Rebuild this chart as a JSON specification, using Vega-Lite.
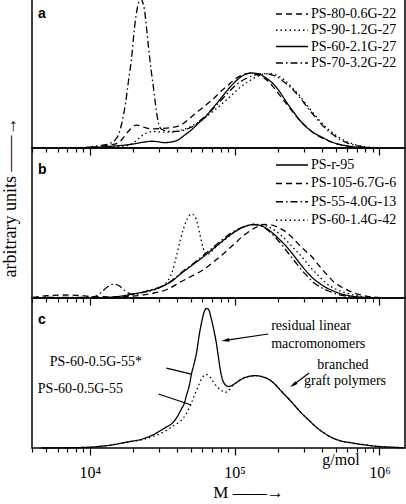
{
  "$schema": "https://vega.github.io/schema/vega-lite/v6.json",
  "padding": {"left": 0, "top": -5, "right": 2, "bottom": 0},
  "config": {
    "font": "Liberation Serif",
    "view": {"stroke": "black", "strokeWidth": 1.5},
    "axis": {"labelFont": "Liberation Serif", "titleFont": "Liberation Serif", "labelColor": "black", "titleColor": "black"},
    "text": {"font": "Liberation Serif", "color": "black"}
  },
  "datasets": {
    "a": [
      {"s":"PS-60-2.1G-27","M":7520,"v":0},{"s":"PS-60-2.1G-27","M":10320,"v":0.003},{"s":"PS-60-2.1G-27","M":14170,"v":0.012},{"s":"PS-60-2.1G-27","M":19460,"v":0.025},{"s":"PS-60-2.1G-27","M":23900,"v":0.04},{"s":"PS-60-2.1G-27","M":26720,"v":0.045},{"s":"PS-60-2.1G-27","M":28920,"v":0.043},{"s":"PS-60-2.1G-27","M":32830,"v":0.036},{"s":"PS-60-2.1G-27","M":36670,"v":0.04},{"s":"PS-60-2.1G-27","M":40990,"v":0.055},{"s":"PS-60-2.1G-27","M":45070,"v":0.085},{"s":"PS-60-2.1G-27","M":50350,"v":0.12},{"s":"PS-60-2.1G-27","M":56260,"v":0.165},{"s":"PS-60-2.1G-27","M":61870,"v":0.2},{"s":"PS-60-2.1G-27","M":69120,"v":0.255},{"s":"PS-60-2.1G-27","M":77260,"v":0.31},{"s":"PS-60-2.1G-27","M":84950,"v":0.36},{"s":"PS-60-2.1G-27","M":94900,"v":0.415},{"s":"PS-60-2.1G-27","M":106000,"v":0.46},{"s":"PS-60-2.1G-27","M":116600,"v":0.488},{"s":"PS-60-2.1G-27","M":130300,"v":0.5},{"s":"PS-60-2.1G-27","M":145600,"v":0.495},{"s":"PS-60-2.1G-27","M":160100,"v":0.475},{"s":"PS-60-2.1G-27","M":178900,"v":0.44},{"s":"PS-60-2.1G-27","M":199800,"v":0.39},{"s":"PS-60-2.1G-27","M":219900,"v":0.33},{"s":"PS-60-2.1G-27","M":234300,"v":0.29},{"s":"PS-60-2.1G-27","M":257600,"v":0.235},{"s":"PS-60-2.1G-27","M":287800,"v":0.175},{"s":"PS-60-2.1G-27","M":321600,"v":0.13},{"s":"PS-60-2.1G-27","M":353700,"v":0.1},{"s":"PS-60-2.1G-27","M":395200,"v":0.075},{"s":"PS-60-2.1G-27","M":448600,"v":0.048},{"s":"PS-60-2.1G-27","M":501200,"v":0.03},{"s":"PS-60-2.1G-27","M":587300,"v":0.015},{"s":"PS-60-2.1G-27","M":688200,"v":0.006},{"s":"PS-60-2.1G-27","M":806000,"v":0.002},{"s":"PS-60-2.1G-27","M":975000,"v":0},

      {"s":"PS-80-0.6G-22","M":7520,"v":0},{"s":"PS-80-0.6G-22","M":10320,"v":0.006},{"s":"PS-80-0.6G-22","M":12090,"v":0.012},{"s":"PS-80-0.6G-22","M":14170,"v":0.022},{"s":"PS-80-0.6G-22","M":15830,"v":0.035},{"s":"PS-80-0.6G-22","M":17140,"v":0.07},{"s":"PS-80-0.6G-22","M":18850,"v":0.12},{"s":"PS-80-0.6G-22","M":21060,"v":0.153},{"s":"PS-80-0.6G-22","M":23900,"v":0.137},{"s":"PS-80-0.6G-22","M":26720,"v":0.128},{"s":"PS-80-0.6G-22","M":31300,"v":0.13},{"s":"PS-80-0.6G-22","M":36670,"v":0.136},{"s":"PS-80-0.6G-22","M":42980,"v":0.155},{"s":"PS-80-0.6G-22","M":48020,"v":0.19},{"s":"PS-80-0.6G-22","M":52810,"v":0.225},{"s":"PS-80-0.6G-22","M":58990,"v":0.262},{"s":"PS-80-0.6G-22","M":65930,"v":0.3},{"s":"PS-80-0.6G-22","M":72510,"v":0.335},{"s":"PS-80-0.6G-22","M":81000,"v":0.38},{"s":"PS-80-0.6G-22","M":90500,"v":0.42},{"s":"PS-80-0.6G-22","M":99520,"v":0.455},{"s":"PS-80-0.6G-22","M":111200,"v":0.484},{"s":"PS-80-0.6G-22","M":124300,"v":0.498},{"s":"PS-80-0.6G-22","M":136700,"v":0.495},{"s":"PS-80-0.6G-22","M":152700,"v":0.478},{"s":"PS-80-0.6G-22","M":170600,"v":0.445},{"s":"PS-80-0.6G-22","M":187600,"v":0.4},{"s":"PS-80-0.6G-22","M":209600,"v":0.34},{"s":"PS-80-0.6G-22","M":234300,"v":0.28},{"s":"PS-80-0.6G-22","M":257600,"v":0.228},{"s":"PS-80-0.6G-22","M":287800,"v":0.175},{"s":"PS-80-0.6G-22","M":321600,"v":0.13},{"s":"PS-80-0.6G-22","M":353700,"v":0.097},{"s":"PS-80-0.6G-22","M":395200,"v":0.07},{"s":"PS-80-0.6G-22","M":448600,"v":0.046},{"s":"PS-80-0.6G-22","M":501200,"v":0.029},{"s":"PS-80-0.6G-22","M":587300,"v":0.014},{"s":"PS-80-0.6G-22","M":688200,"v":0.006},{"s":"PS-80-0.6G-22","M":806000,"v":0.002},{"s":"PS-80-0.6G-22","M":975000,"v":0},

      {"s":"PS-90-1.2G-27","M":8810,"v":0},{"s":"PS-90-1.2G-27","M":12090,"v":0.003},{"s":"PS-90-1.2G-27","M":15340,"v":0.008},{"s":"PS-90-1.2G-27","M":17970,"v":0.015},{"s":"PS-90-1.2G-27","M":20410,"v":0.04},{"s":"PS-90-1.2G-27","M":22800,"v":0.08},{"s":"PS-90-1.2G-27","M":24680,"v":0.1},{"s":"PS-90-1.2G-27","M":27580,"v":0.11},{"s":"PS-90-1.2G-27","M":31300,"v":0.106},{"s":"PS-90-1.2G-27","M":36670,"v":0.106},{"s":"PS-90-1.2G-27","M":42980,"v":0.12},{"s":"PS-90-1.2G-27","M":50350,"v":0.145},{"s":"PS-90-1.2G-27","M":58990,"v":0.185},{"s":"PS-90-1.2G-27","M":69120,"v":0.235},{"s":"PS-90-1.2G-27","M":81000,"v":0.29},{"s":"PS-90-1.2G-27","M":94900,"v":0.35},{"s":"PS-90-1.2G-27","M":111200,"v":0.41},{"s":"PS-90-1.2G-27","M":130300,"v":0.455},{"s":"PS-90-1.2G-27","M":145600,"v":0.48},{"s":"PS-90-1.2G-27","M":160100,"v":0.494},{"s":"PS-90-1.2G-27","M":178900,"v":0.495},{"s":"PS-90-1.2G-27","M":199800,"v":0.48},{"s":"PS-90-1.2G-27","M":219900,"v":0.455},{"s":"PS-90-1.2G-27","M":245600,"v":0.41},{"s":"PS-90-1.2G-27","M":274500,"v":0.36},{"s":"PS-90-1.2G-27","M":301800,"v":0.31},{"s":"PS-90-1.2G-27","M":337300,"v":0.25},{"s":"PS-90-1.2G-27","M":376900,"v":0.195},{"s":"PS-90-1.2G-27","M":414400,"v":0.15},{"s":"PS-90-1.2G-27","M":463100,"v":0.11},{"s":"PS-90-1.2G-27","M":517300,"v":0.075},{"s":"PS-90-1.2G-27","M":587300,"v":0.045},{"s":"PS-90-1.2G-27","M":635600,"v":0.032},{"s":"PS-90-1.2G-27","M":710100,"v":0.018},{"s":"PS-90-1.2G-27","M":806000,"v":0.008},{"s":"PS-90-1.2G-27","M":944500,"v":0.002},{"s":"PS-90-1.2G-27","M":1107000,"v":0},

      {"s":"PS-70-3.2G-22","M":7520,"v":0},{"s":"PS-70-3.2G-22","M":10320,"v":0.008},{"s":"PS-70-3.2G-22","M":12090,"v":0.018},{"s":"PS-70-3.2G-22","M":13730,"v":0.03},{"s":"PS-70-3.2G-22","M":14860,"v":0.05},{"s":"PS-70-3.2G-22","M":15830,"v":0.09},{"s":"PS-70-3.2G-22","M":16610,"v":0.16},{"s":"PS-70-3.2G-22","M":17690,"v":0.3},{"s":"PS-70-3.2G-22","M":18550,"v":0.45},{"s":"PS-70-3.2G-22","M":19460,"v":0.6},{"s":"PS-70-3.2G-22","M":20090,"v":0.74},{"s":"PS-70-3.2G-22","M":20730,"v":0.86},{"s":"PS-70-3.2G-22","M":21400,"v":0.94},{"s":"PS-70-3.2G-22","M":22090,"v":0.985},{"s":"PS-70-3.2G-22","M":22620,"v":0.993},{"s":"PS-70-3.2G-22","M":23170,"v":0.975},{"s":"PS-70-3.2G-22","M":23900,"v":0.92},{"s":"PS-70-3.2G-22","M":24680,"v":0.8},{"s":"PS-70-3.2G-22","M":25480,"v":0.67},{"s":"PS-70-3.2G-22","M":26720,"v":0.5},{"s":"PS-70-3.2G-22","M":27580,"v":0.4},{"s":"PS-70-3.2G-22","M":28470,"v":0.29},{"s":"PS-70-3.2G-22","M":29380,"v":0.2},{"s":"PS-70-3.2G-22","M":30330,"v":0.145},{"s":"PS-70-3.2G-22","M":31300,"v":0.125},{"s":"PS-70-3.2G-22","M":33880,"v":0.115},{"s":"PS-70-3.2G-22","M":37860,"v":0.11},{"s":"PS-70-3.2G-22","M":42980,"v":0.115},{"s":"PS-70-3.2G-22","M":48020,"v":0.13},{"s":"PS-70-3.2G-22","M":52810,"v":0.15},{"s":"PS-70-3.2G-22","M":58990,"v":0.19},{"s":"PS-70-3.2G-22","M":65930,"v":0.23},{"s":"PS-70-3.2G-22","M":72510,"v":0.27},{"s":"PS-70-3.2G-22","M":81000,"v":0.32},{"s":"PS-70-3.2G-22","M":90500,"v":0.37},{"s":"PS-70-3.2G-22","M":99520,"v":0.41},{"s":"PS-70-3.2G-22","M":111200,"v":0.445},{"s":"PS-70-3.2G-22","M":124300,"v":0.47},{"s":"PS-70-3.2G-22","M":136700,"v":0.485},{"s":"PS-70-3.2G-22","M":152700,"v":0.495},{"s":"PS-70-3.2G-22","M":165300,"v":0.496},{"s":"PS-70-3.2G-22","M":178900,"v":0.488},{"s":"PS-70-3.2G-22","M":199800,"v":0.47},{"s":"PS-70-3.2G-22","M":219900,"v":0.44},{"s":"PS-70-3.2G-22","M":245600,"v":0.4},{"s":"PS-70-3.2G-22","M":274500,"v":0.35},{"s":"PS-70-3.2G-22","M":301800,"v":0.3},{"s":"PS-70-3.2G-22","M":337300,"v":0.24},{"s":"PS-70-3.2G-22","M":376900,"v":0.185},{"s":"PS-70-3.2G-22","M":414400,"v":0.14},{"s":"PS-70-3.2G-22","M":463100,"v":0.1},{"s":"PS-70-3.2G-22","M":517300,"v":0.065},{"s":"PS-70-3.2G-22","M":587300,"v":0.038},{"s":"PS-70-3.2G-22","M":688200,"v":0.016},{"s":"PS-70-3.2G-22","M":806000,"v":0.006},{"s":"PS-70-3.2G-22","M":944500,"v":0.001}
    ],
    "b": [
      {"s":"PS-r-95","M":10320,"v":0},{"s":"PS-r-95","M":14170,"v":0.005},{"s":"PS-r-95","M":19460,"v":0.025},{"s":"PS-r-95","M":24680,"v":0.045},{"s":"PS-r-95","M":29850,"v":0.067},{"s":"PS-r-95","M":36670,"v":0.11},{"s":"PS-r-95","M":42980,"v":0.165},{"s":"PS-r-95","M":50350,"v":0.215},{"s":"PS-r-95","M":61870,"v":0.28},{"s":"PS-r-95","M":72510,"v":0.335},{"s":"PS-r-95","M":84950,"v":0.39},{"s":"PS-r-95","M":94900,"v":0.425},{"s":"PS-r-95","M":106000,"v":0.455},{"s":"PS-r-95","M":120400,"v":0.48},{"s":"PS-r-95","M":134500,"v":0.49},{"s":"PS-r-95","M":147900,"v":0.486},{"s":"PS-r-95","M":165300,"v":0.465},{"s":"PS-r-95","M":184600,"v":0.43},{"s":"PS-r-95","M":209600,"v":0.38},{"s":"PS-r-95","M":234300,"v":0.33},{"s":"PS-r-95","M":257600,"v":0.28},{"s":"PS-r-95","M":287800,"v":0.22},{"s":"PS-r-95","M":321600,"v":0.165},{"s":"PS-r-95","M":353700,"v":0.125},{"s":"PS-r-95","M":382800,"v":0.1},{"s":"PS-r-95","M":427800,"v":0.07},{"s":"PS-r-95","M":485700,"v":0.045},{"s":"PS-r-95","M":542600,"v":0.028},{"s":"PS-r-95","M":635600,"v":0.013},{"s":"PS-r-95","M":744700,"v":0.005},{"s":"PS-r-95","M":872700,"v":0.002},{"s":"PS-r-95","M":1022000,"v":0},

      {"s":"PS-105-6.7G-6","M":4050,"v":0.004},{"s":"PS-105-6.7G-6","M":5060,"v":0.015},{"s":"PS-105-6.7G-6","M":6418,"v":0.02},{"s":"PS-105-6.7G-6","M":8140,"v":0.018},{"s":"PS-105-6.7G-6","M":10320,"v":0.01},{"s":"PS-105-6.7G-6","M":14170,"v":0.008},{"s":"PS-105-6.7G-6","M":19460,"v":0.012},{"s":"PS-105-6.7G-6","M":26720,"v":0.03},{"s":"PS-105-6.7G-6","M":33880,"v":0.055},{"s":"PS-105-6.7G-6","M":42980,"v":0.11},{"s":"PS-105-6.7G-6","M":50350,"v":0.145},{"s":"PS-105-6.7G-6","M":61870,"v":0.193},{"s":"PS-105-6.7G-6","M":72510,"v":0.245},{"s":"PS-105-6.7G-6","M":84950,"v":0.3},{"s":"PS-105-6.7G-6","M":99520,"v":0.36},{"s":"PS-105-6.7G-6","M":116600,"v":0.42},{"s":"PS-105-6.7G-6","M":136700,"v":0.465},{"s":"PS-105-6.7G-6","M":160100,"v":0.49},{"s":"PS-105-6.7G-6","M":178900,"v":0.487},{"s":"PS-105-6.7G-6","M":199800,"v":0.47},{"s":"PS-105-6.7G-6","M":227000,"v":0.44},{"s":"PS-105-6.7G-6","M":257600,"v":0.39},{"s":"PS-105-6.7G-6","M":287800,"v":0.34},{"s":"PS-105-6.7G-6","M":337300,"v":0.28},{"s":"PS-105-6.7G-6","M":395200,"v":0.2},{"s":"PS-105-6.7G-6","M":448600,"v":0.14},{"s":"PS-105-6.7G-6","M":485700,"v":0.105},{"s":"PS-105-6.7G-6","M":542600,"v":0.075},{"s":"PS-105-6.7G-6","M":635600,"v":0.042},{"s":"PS-105-6.7G-6","M":744700,"v":0.02},{"s":"PS-105-6.7G-6","M":872700,"v":0.008},{"s":"PS-105-6.7G-6","M":1022000,"v":0.002},

      {"s":"PS-55-4.0G-13","M":4050,"v":0.003},{"s":"PS-55-4.0G-13","M":7520,"v":0.004},{"s":"PS-55-4.0G-13","M":10320,"v":0.006},{"s":"PS-55-4.0G-13","M":11170,"v":0.015},{"s":"PS-55-4.0G-13","M":12090,"v":0.04},{"s":"PS-55-4.0G-13","M":13300,"v":0.075},{"s":"PS-55-4.0G-13","M":14630,"v":0.093},{"s":"PS-55-4.0G-13","M":16090,"v":0.08},{"s":"PS-55-4.0G-13","M":17410,"v":0.05},{"s":"PS-55-4.0G-13","M":18850,"v":0.03},{"s":"PS-55-4.0G-13","M":20410,"v":0.025},{"s":"PS-55-4.0G-13","M":24680,"v":0.045},{"s":"PS-55-4.0G-13","M":29850,"v":0.07},{"s":"PS-55-4.0G-13","M":36670,"v":0.115},{"s":"PS-55-4.0G-13","M":42980,"v":0.17},{"s":"PS-55-4.0G-13","M":50350,"v":0.22},{"s":"PS-55-4.0G-13","M":61870,"v":0.29},{"s":"PS-55-4.0G-13","M":72510,"v":0.345},{"s":"PS-55-4.0G-13","M":84950,"v":0.4},{"s":"PS-55-4.0G-13","M":94900,"v":0.435},{"s":"PS-55-4.0G-13","M":106000,"v":0.46},{"s":"PS-55-4.0G-13","M":120400,"v":0.48},{"s":"PS-55-4.0G-13","M":134500,"v":0.49},{"s":"PS-55-4.0G-13","M":147900,"v":0.485},{"s":"PS-55-4.0G-13","M":165300,"v":0.46},{"s":"PS-55-4.0G-13","M":184600,"v":0.42},{"s":"PS-55-4.0G-13","M":209600,"v":0.36},{"s":"PS-55-4.0G-13","M":234300,"v":0.3},{"s":"PS-55-4.0G-13","M":257600,"v":0.25},{"s":"PS-55-4.0G-13","M":287800,"v":0.19},{"s":"PS-55-4.0G-13","M":321600,"v":0.14},{"s":"PS-55-4.0G-13","M":353700,"v":0.1},{"s":"PS-55-4.0G-13","M":395200,"v":0.07},{"s":"PS-55-4.0G-13","M":448600,"v":0.045},{"s":"PS-55-4.0G-13","M":501200,"v":0.028},{"s":"PS-55-4.0G-13","M":587300,"v":0.013},{"s":"PS-55-4.0G-13","M":688200,"v":0.005},{"s":"PS-55-4.0G-13","M":806000,"v":0.001},

      {"s":"PS-60-1.4G-42","M":10320,"v":0},{"s":"PS-60-1.4G-42","M":16610,"v":0.01},{"s":"PS-60-1.4G-42","M":22800,"v":0.035},{"s":"PS-60-1.4G-42","M":28920,"v":0.06},{"s":"PS-60-1.4G-42","M":32830,"v":0.09},{"s":"PS-60-1.4G-42","M":34970,"v":0.12},{"s":"PS-60-1.4G-42","M":37260,"v":0.18},{"s":"PS-60-1.4G-42","M":39700,"v":0.28},{"s":"PS-60-1.4G-42","M":42300,"v":0.39},{"s":"PS-60-1.4G-42","M":44360,"v":0.46},{"s":"PS-60-1.4G-42","M":47260,"v":0.53},{"s":"PS-60-1.4G-42","M":50350,"v":0.56},{"s":"PS-60-1.4G-42","M":52810,"v":0.55},{"s":"PS-60-1.4G-42","M":55380,"v":0.5},{"s":"PS-60-1.4G-42","M":58060,"v":0.41},{"s":"PS-60-1.4G-42","M":60900,"v":0.33},{"s":"PS-60-1.4G-42","M":63870,"v":0.29},{"s":"PS-60-1.4G-42","M":66970,"v":0.295},{"s":"PS-60-1.4G-42","M":72510,"v":0.33},{"s":"PS-60-1.4G-42","M":84950,"v":0.385},{"s":"PS-60-1.4G-42","M":99520,"v":0.44},{"s":"PS-60-1.4G-42","M":116600,"v":0.475},{"s":"PS-60-1.4G-42","M":134500,"v":0.49},{"s":"PS-60-1.4G-42","M":152700,"v":0.49},{"s":"PS-60-1.4G-42","M":170600,"v":0.475},{"s":"PS-60-1.4G-42","M":193600,"v":0.445},{"s":"PS-60-1.4G-42","M":219900,"v":0.4},{"s":"PS-60-1.4G-42","M":245600,"v":0.35},{"s":"PS-60-1.4G-42","M":287800,"v":0.28},{"s":"PS-60-1.4G-42","M":337300,"v":0.2},{"s":"PS-60-1.4G-42","M":382800,"v":0.145},{"s":"PS-60-1.4G-42","M":427800,"v":0.1},{"s":"PS-60-1.4G-42","M":485700,"v":0.065},{"s":"PS-60-1.4G-42","M":542600,"v":0.045},{"s":"PS-60-1.4G-42","M":635600,"v":0.024},{"s":"PS-60-1.4G-42","M":744700,"v":0.01},{"s":"PS-60-1.4G-42","M":872700,"v":0.003}
    ],
    "c": [
      {"s":"PS-60-0.5G-55*","M":4673,"v":0},{"s":"PS-60-0.5G-55*","M":7520,"v":0.002},{"s":"PS-60-0.5G-55*","M":10000,"v":0.005},{"s":"PS-60-0.5G-55*","M":12090,"v":0.012},{"s":"PS-60-0.5G-55*","M":14170,"v":0.02},{"s":"PS-60-0.5G-55*","M":16610,"v":0.033},{"s":"PS-60-0.5G-55*","M":19460,"v":0.045},{"s":"PS-60-0.5G-55*","M":21740,"v":0.053},{"s":"PS-60-0.5G-55*","M":24680,"v":0.07},{"s":"PS-60-0.5G-55*","M":28030,"v":0.093},{"s":"PS-60-0.5G-55*","M":31300,"v":0.12},{"s":"PS-60-0.5G-55*","M":33880,"v":0.14},{"s":"PS-60-0.5G-55*","M":36670,"v":0.16},{"s":"PS-60-0.5G-55*","M":39700,"v":0.2},{"s":"PS-60-0.5G-55*","M":42980,"v":0.26},{"s":"PS-60-0.5G-55*","M":45070,"v":0.3},{"s":"PS-60-0.5G-55*","M":46520,"v":0.35},{"s":"PS-60-0.5G-55*","M":48790,"v":0.42},{"s":"PS-60-0.5G-55*","M":50350,"v":0.49},{"s":"PS-60-0.5G-55*","M":52810,"v":0.57},{"s":"PS-60-0.5G-55*","M":54530,"v":0.63},{"s":"PS-60-0.5G-55*","M":57170,"v":0.76},{"s":"PS-60-0.5G-55*","M":58990,"v":0.83},{"s":"PS-60-0.5G-55*","M":60900,"v":0.89},{"s":"PS-60-0.5G-55*","M":63870,"v":0.93},{"s":"PS-60-0.5G-55*","M":65930,"v":0.925},{"s":"PS-60-0.5G-55*","M":69120,"v":0.86},{"s":"PS-60-0.5G-55*","M":72510,"v":0.77},{"s":"PS-60-0.5G-55*","M":74850,"v":0.7},{"s":"PS-60-0.5G-55*","M":77260,"v":0.61},{"s":"PS-60-0.5G-55*","M":79730,"v":0.52},{"s":"PS-60-0.5G-55*","M":82300,"v":0.46},{"s":"PS-60-0.5G-55*","M":84950,"v":0.43},{"s":"PS-60-0.5G-55*","M":87700,"v":0.415},{"s":"PS-60-0.5G-55*","M":90500,"v":0.41},{"s":"PS-60-0.5G-55*","M":94900,"v":0.415},{"s":"PS-60-0.5G-55*","M":106000,"v":0.445},{"s":"PS-60-0.5G-55*","M":116600,"v":0.468},{"s":"PS-60-0.5G-55*","M":130300,"v":0.48},{"s":"PS-60-0.5G-55*","M":141100,"v":0.482},{"s":"PS-60-0.5G-55*","M":152700,"v":0.477},{"s":"PS-60-0.5G-55*","M":170600,"v":0.46},{"s":"PS-60-0.5G-55*","M":187600,"v":0.43},{"s":"PS-60-0.5G-55*","M":209600,"v":0.38},{"s":"PS-60-0.5G-55*","M":245600,"v":0.31},{"s":"PS-60-0.5G-55*","M":287800,"v":0.235},{"s":"PS-60-0.5G-55*","M":321600,"v":0.19},{"s":"PS-60-0.5G-55*","M":365100,"v":0.14},{"s":"PS-60-0.5G-55*","M":414400,"v":0.1},{"s":"PS-60-0.5G-55*","M":463100,"v":0.072},{"s":"PS-60-0.5G-55*","M":542600,"v":0.047},{"s":"PS-60-0.5G-55*","M":635600,"v":0.035},{"s":"PS-60-0.5G-55*","M":710100,"v":0.027},{"s":"PS-60-0.5G-55*","M":806000,"v":0.02},{"s":"PS-60-0.5G-55*","M":915300,"v":0.013},{"s":"PS-60-0.5G-55*","M":1107000,"v":0.007},{"s":"PS-60-0.5G-55*","M":1496000,"v":0.002},

      {"s":"PS-60-0.5G-55","M":4673,"v":0},{"s":"PS-60-0.5G-55","M":7520,"v":0.002},{"s":"PS-60-0.5G-55","M":10000,"v":0.005},{"s":"PS-60-0.5G-55","M":12090,"v":0.012},{"s":"PS-60-0.5G-55","M":14170,"v":0.02},{"s":"PS-60-0.5G-55","M":16610,"v":0.032},{"s":"PS-60-0.5G-55","M":19460,"v":0.043},{"s":"PS-60-0.5G-55","M":22800,"v":0.055},{"s":"PS-60-0.5G-55","M":25480,"v":0.067},{"s":"PS-60-0.5G-55","M":28920,"v":0.085},{"s":"PS-60-0.5G-55","M":32830,"v":0.11},{"s":"PS-60-0.5G-55","M":36670,"v":0.14},{"s":"PS-60-0.5G-55","M":40990,"v":0.17},{"s":"PS-60-0.5G-55","M":44360,"v":0.2},{"s":"PS-60-0.5G-55","M":46520,"v":0.23},{"s":"PS-60-0.5G-55","M":50350,"v":0.3},{"s":"PS-60-0.5G-55","M":52810,"v":0.35},{"s":"PS-60-0.5G-55","M":55380,"v":0.4},{"s":"PS-60-0.5G-55","M":57170,"v":0.43},{"s":"PS-60-0.5G-55","M":59950,"v":0.47},{"s":"PS-60-0.5G-55","M":63870,"v":0.49},{"s":"PS-60-0.5G-55","M":68050,"v":0.47},{"s":"PS-60-0.5G-55","M":72510,"v":0.43},{"s":"PS-60-0.5G-55","M":77260,"v":0.4},{"s":"PS-60-0.5G-55","M":81000,"v":0.385},{"s":"PS-60-0.5G-55","M":84950,"v":0.37},{"s":"PS-60-0.5G-55","M":90500,"v":0.38},{"s":"PS-60-0.5G-55","M":94900,"v":0.405},{"s":"PS-60-0.5G-55","M":106000,"v":0.445},{"s":"PS-60-0.5G-55","M":116600,"v":0.468},{"s":"PS-60-0.5G-55","M":130300,"v":0.48},{"s":"PS-60-0.5G-55","M":141100,"v":0.482},{"s":"PS-60-0.5G-55","M":152700,"v":0.477},{"s":"PS-60-0.5G-55","M":170600,"v":0.46},{"s":"PS-60-0.5G-55","M":187600,"v":0.43},{"s":"PS-60-0.5G-55","M":209600,"v":0.38},{"s":"PS-60-0.5G-55","M":245600,"v":0.31},{"s":"PS-60-0.5G-55","M":287800,"v":0.235},{"s":"PS-60-0.5G-55","M":321600,"v":0.19},{"s":"PS-60-0.5G-55","M":365100,"v":0.14},{"s":"PS-60-0.5G-55","M":414400,"v":0.1},{"s":"PS-60-0.5G-55","M":463100,"v":0.072},{"s":"PS-60-0.5G-55","M":542600,"v":0.047},{"s":"PS-60-0.5G-55","M":635600,"v":0.035},{"s":"PS-60-0.5G-55","M":710100,"v":0.027},{"s":"PS-60-0.5G-55","M":806000,"v":0.02},{"s":"PS-60-0.5G-55","M":915300,"v":0.013},{"s":"PS-60-0.5G-55","M":1107000,"v":0.007},{"s":"PS-60-0.5G-55","M":1496000,"v":0.002}
    ]
  },
  "vconcat": [
    {
      "width": 373, "height": 150,
      "layer": [
        {
          "data": {"name": "a"},
          "mark": {"type": "line", "color": "black", "strokeWidth": 1.3, "interpolate": "monotone", "strokeCap": "butt"},
          "encoding": {
            "x": {"field": "M", "type": "quantitative", "scale": {"type": "log", "domain": [4000, 1500000], "nice": false},
              "axis": {"values": [4000,5000,6000,7000,8000,9000,10000,20000,30000,40000,50000,60000,70000,80000,90000,100000,200000,300000,400000,500000,600000,700000,800000,900000,1000000], "labels": false, "domain": false, "grid": false, "title": null, "tickColor": "black", "tickWidth": 1.2,
                "tickSize": {"condition": {"test": "datum.value === 10000 || datum.value === 100000 || datum.value === 1000000", "value": 7}, "value": 4}}},
            "y": {"field": "v", "type": "quantitative", "scale": {"domain": [0, 1], "nice": false}, "axis": null},
            "strokeDash": {"field": "s", "type": "nominal", "sort": null,
              "scale": {"domain": ["PS-80-0.6G-22", "PS-90-1.2G-27", "PS-60-2.1G-27", "PS-70-3.2G-22"], "range": [[6, 4], [1.5, 3], [1, 0], [7, 3, 1.5, 3]]},
              "legend": {"title": null, "orient": "none", "legendX": 253, "legendY": 9, "padding": 0, "symbolType": "M-4,0H4", "symbolSize": 64, "symbolStrokeWidth": 1.5, "symbolStrokeColor": "black", "labelFont": "Liberation Serif", "labelFontSize": 14, "labelColor": "black", "labelOffset": 12, "rowPadding": 2.3}}
          }
        },
        {
          "data": {"values": [{}]},
          "mark": {"type": "text", "text": "a", "font": "Liberation Sans", "fontWeight": "bold", "fontSize": 14, "align": "left", "baseline": "alphabetic"},
          "encoding": {"x": {"datum": 4400}, "y": {"datum": 0.867}}
        }
      ]
    },
    {
      "width": 373, "height": 150,
      "layer": [
        {
          "data": {"name": "b"},
          "mark": {"type": "line", "color": "black", "strokeWidth": 1.3, "interpolate": "monotone", "strokeCap": "butt"},
          "encoding": {
            "x": {"field": "M", "type": "quantitative", "scale": {"type": "log", "domain": [4000, 1500000], "nice": false},
              "axis": {"values": [4000,5000,6000,7000,8000,9000,10000,20000,30000,40000,50000,60000,70000,80000,90000,100000,200000,300000,400000,500000,600000,700000,800000,900000,1000000], "labels": false, "domain": false, "grid": false, "title": null, "tickColor": "black", "tickWidth": 1.2,
                "tickSize": {"condition": {"test": "datum.value === 10000 || datum.value === 100000 || datum.value === 1000000", "value": 7}, "value": 4}}},
            "y": {"field": "v", "type": "quantitative", "scale": {"domain": [0, 1], "nice": false},
              "axis": {"title": "arbitrary units ——→", "titleFont": "Liberation Serif", "titleFontSize": 18, "titleFontWeight": "normal", "titleColor": "black", "labels": false, "ticks": false, "domain": false, "grid": false, "titleX": -16.6, "titleY": 49, "titleAlign": "center", "titleBaseline": "alphabetic", "titleAngle": 270}},
            "strokeDash": {"field": "s", "type": "nominal", "sort": null,
              "scale": {"domain": ["PS-r-95", "PS-105-6.7G-6", "PS-55-4.0G-13", "PS-60-1.4G-42"], "range": [[1, 0], [6, 4], [7, 3, 1.5, 3], [1.5, 3]]},
              "legend": {"title": null, "orient": "none", "legendX": 253, "legendY": 10, "padding": 0, "symbolType": "M-4,0H4", "symbolSize": 64, "symbolStrokeWidth": 1.5, "symbolStrokeColor": "black", "labelFont": "Liberation Serif", "labelFontSize": 14, "labelColor": "black", "labelOffset": 12, "rowPadding": 4.4}}
          }
        },
        {
          "data": {"values": [{}]},
          "mark": {"type": "text", "text": "b", "font": "Liberation Sans", "fontWeight": "bold", "fontSize": 14, "align": "left", "baseline": "alphabetic"},
          "encoding": {"x": {"datum": 4400}, "y": {"datum": 0.827}}
        }
      ]
    },
    {
      "width": 373, "height": 150,
      "layer": [
        {
          "data": {"name": "c"},
          "mark": {"type": "line", "color": "black", "strokeWidth": 1.3, "interpolate": "monotone", "strokeCap": "butt"},
          "encoding": {
            "x": {"field": "M", "type": "quantitative", "scale": {"type": "log", "domain": [4000, 1500000], "nice": false},
              "axis": {"values": [4000,5000,6000,7000,8000,9000,10000,20000,30000,40000,50000,60000,70000,80000,90000,100000,200000,300000,400000,500000,600000,700000,800000,900000,1000000], "domain": false, "grid": false, "tickColor": "black", "tickWidth": 1.2,
                "tickSize": {"condition": {"test": "datum.value === 10000 || datum.value === 100000 || datum.value === 1000000", "value": 7}, "value": 4},
                "labelExpr": "datum.value === 10000 ? '10⁴' : datum.value === 100000 ? '10⁵' : datum.value === 1000000 ? '10⁶' : ''",
                "labelFont": "Liberation Serif", "labelFontSize": 16, "labelColor": "black", "labelBaseline": "alphabetic", "labelPadding": 22, "labelOverlap": false, "labelFlush": false, "labelBound": false,
                "title": "M ——→", "titleFont": "Liberation Serif", "titleFontSize": 17, "titleFontWeight": "normal", "titleColor": "black", "titleX": 216, "titleY": 49, "titleAlign": "center", "titleBaseline": "alphabetic"}},
            "y": {"field": "v", "type": "quantitative", "scale": {"domain": [0, 1], "nice": false}, "axis": null},
            "strokeDash": {"field": "s", "type": "nominal", "sort": null,
              "scale": {"domain": ["PS-60-0.5G-55*", "PS-60-0.5G-55"], "range": [[1, 0], [1.5, 3]]},
              "legend": null}
          }
        },
        {
          "data": {"values": [{}]},
          "mark": {"type": "text", "text": "c", "font": "Liberation Sans", "fontWeight": "bold", "fontSize": 14, "align": "left", "baseline": "alphabetic"},
          "encoding": {"x": {"datum": 4400}, "y": {"datum": 0.827}}
        },
        {
          "data": {"values": [{}]},
          "mark": {"type": "text", "text": "g/mol", "fontSize": 16, "align": "center", "baseline": "alphabetic"},
          "encoding": {"x": {"datum": 542600}, "y": {"datum": -0.113}}
        },
        {
          "data": {"values": [{}]},
          "mark": {"type": "text", "text": "residual linear", "fontSize": 14, "align": "left", "baseline": "alphabetic"},
          "encoding": {"x": {"datum": 178900}, "y": {"datum": 0.787}}
        },
        {
          "data": {"values": [{}]},
          "mark": {"type": "text", "text": "macromonomers", "fontSize": 14, "align": "left", "baseline": "alphabetic"},
          "encoding": {"x": {"datum": 178900}, "y": {"datum": 0.667}}
        },
        {
          "data": {"values": [{}]},
          "mark": {"type": "text", "text": "branched", "fontSize": 14, "align": "center", "baseline": "alphabetic"},
          "encoding": {"x": {"datum": 559800}, "y": {"datum": 0.527}}
        },
        {
          "data": {"values": [{}]},
          "mark": {"type": "text", "text": "graft polymers", "fontSize": 14, "align": "center", "baseline": "alphabetic"},
          "encoding": {"x": {"datum": 578000}, "y": {"datum": 0.42}}
        },
        {
          "data": {"values": [{}]},
          "mark": {"type": "text", "text": "PS-60-0.5G-55*", "fontSize": 14, "align": "left", "baseline": "alphabetic"},
          "encoding": {"x": {"datum": 5306}, "y": {"datum": 0.547}}
        },
        {
          "data": {"values": [{}]},
          "mark": {"type": "text", "text": "PS-60-0.5G-55", "fontSize": 14, "align": "left", "baseline": "alphabetic"},
          "encoding": {"x": {"datum": 4387}, "y": {"datum": 0.367}}
        },
        {
          "data": {"values": [{}]},
          "mark": {"type": "rule", "color": "black", "strokeWidth": 1.2},
          "encoding": {"x": {"datum": 170600}, "y": {"datum": 0.76}, "x2": {"datum": 86300}, "y2": {"datum": 0.717}}
        },
        {
          "data": {"values": [{}]},
          "mark": {"type": "point", "shape": "M1,0L-1,-0.45L-1,0.45Z", "filled": true, "color": "black", "opacity": 1, "size": 64, "angle": 171.5},
          "encoding": {"x": {"datum": 86300}, "y": {"datum": 0.717}}
        },
        {
          "data": {"values": [{}]},
          "mark": {"type": "rule", "color": "black", "strokeWidth": 1.2},
          "encoding": {"x": {"datum": 326800}, "y": {"datum": 0.5}, "x2": {"datum": 253600}, "y2": {"datum": 0.42}}
        },
        {
          "data": {"values": [{}]},
          "mark": {"type": "point", "shape": "M1,0L-1,-0.45L-1,0.45Z", "filled": true, "color": "black", "opacity": 1, "size": 64, "angle": 144},
          "encoding": {"x": {"datum": 253600}, "y": {"datum": 0.42}}
        },
        {
          "data": {"values": [{}]},
          "mark": {"type": "rule", "color": "black", "strokeWidth": 1.2},
          "encoding": {"x": {"datum": 33880}, "y": {"datum": 0.533}, "x2": {"datum": 50350}, "y2": {"datum": 0.493}}
        },
        {
          "data": {"values": [{}]},
          "mark": {"type": "rule", "color": "black", "strokeWidth": 1.2},
          "encoding": {"x": {"datum": 29850}, "y": {"datum": 0.36}, "x2": {"datum": 50350}, "y2": {"datum": 0.287}}
        }
      ]
    }
  ],
  "spacing": 0,
  "bounds": "flush",
  "resolve": {"scale": {"x": "independent", "y": "independent", "strokeDash": "independent"}, "legend": {"strokeDash": "independent"}, "axis": {"x": "independent", "y": "independent"}}
}
